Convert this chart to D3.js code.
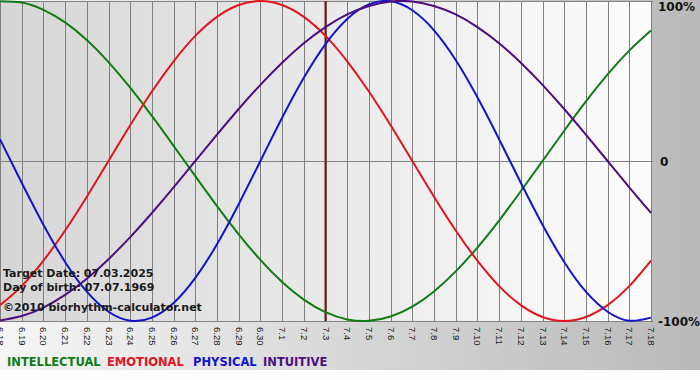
<!DOCTYPE html>
<html>
<head>
<meta charset="utf-8">
<script src="https://cdn.jsdelivr.net/npm/d3@7"></script>
<style>
	html, body { margin: 0; padding: 0; background: #fdfdfd; }
	svg { display: block; }
</style>
</head>
<body>
<svg id="chart"></svg>
<script>
const dates = [
	'6.18', '6.19', '6.20', '6.21', '6.22', '6.23', '6.24', '6.25', '6.26', '6.27',
	'6.28', '6.29', '6.30', '7.1', '7.2', '7.3', '7.4', '7.5', '7.6', '7.7', '7.8',
	'7.9', '7.10', '7.11', '7.12', '7.13', '7.14', '7.15', '7.16', '7.17', '7.18'
];
const physical = [13.6, -13.6, -39.8, -63.1, -81.7, -94.2, -99.8, -97.9, -88.8, -73.1, -52.0, -27.0, 0, 27.0, 52.0, 73.1, 88.8, 97.9, 99.8, 94.2, 81.7, 63.1, 39.8, 13.6, -13.6, -39.8, -63.1, -81.7, -94.2, -99.8, -97.9];
const emotional = [-90.1, -78.2, -62.3, -43.4, -22.3, 0, 22.3, 43.4, 62.3, 78.2, 90.1, 97.5, 100, 97.5, 90.1, 78.2, 62.3, 43.4, 22.3, 0, -22.3, -43.4, -62.3, -78.2, -90.1, -97.5, -100, -97.5, -90.1, -78.2, -62.3];
const intellectual = [99.9, 99.0, 94.5, 86.6, 75.6, 61.8, 45.8, 28.2, 9.5, -9.5, -28.2, -45.8, -61.8, -75.6, -86.6, -94.5, -99.0, -99.9, -97.2, -91.0, -81.5, -69.0, -54.1, -37.2, -18.9, 0, 18.9, 37.2, 54.1, 69.0, 81.5];
const intuitive = [-99.7, -96.9, -91.6, -83.7, -73.6, -61.4, -47.6, -32.5, -16.5, 0, 16.5, 32.5, 47.6, 61.4, 73.6, 83.7, 91.6, 96.9, 99.7, 99.7, 96.9, 91.6, 83.7, 73.6, 61.4, 47.6, 32.5, 16.5, 0, -16.5, -32.5];
const yTickValues = [100, 0, -100];
const yTickLabels = ['100%', '0', '-100%'];
const targetIndex = 15;
const infoLines = ['Target Date: 07.03.2025', 'Day of birth: 07.07.1969', '\u00a92010 biorhythm-calculator.net'];

const series = [
	{ label: 'INTELLECTUAL', values: intellectual, color: '#0f7c14', legendX: 7 },
	{ label: 'EMOTIONAL', values: emotional, color: '#e3141c', legendX: 107 },
	{ label: 'PHYSICAL', values: physical, color: '#1414cc', legendX: 193 },
	{ label: 'INTUITIVE', values: intuitive, color: '#4c0e80', legendX: 263 }
];

const totalWidth = 700;
const totalHeight = 380;
const plot = { left: 0, right: 651, top: 1, bottom: 321 };

const xScale = d3.scaleLinear([0, dates.length - 1], [plot.left, plot.right]);
const yScale = d3.scaleLinear([-100, 100], [plot.bottom, plot.top]);

const svg = d3.select('#chart')
	.attr('width', totalWidth)
	.attr('height', totalHeight)
	.attr('viewBox', `0 0 ${totalWidth} ${totalHeight}`);

/** BACKGROUNDS *************************************************************/
const defs = svg.append('defs');
const outerGrad = defs.append('linearGradient').attr('id', 'outer-bg');
outerGrad.append('stop').attr('offset', '0%').attr('stop-color', '#f6f6f6');
outerGrad.append('stop').attr('offset', '100%').attr('stop-color', '#b9b9b9');
const plotGrad = defs.append('linearGradient').attr('id', 'plot-bg');
plotGrad.append('stop').attr('offset', '0%').attr('stop-color', '#d6d6d6');
plotGrad.append('stop').attr('offset', '100%').attr('stop-color', '#fdfdfd');

svg.append('rect')
	.attr('x', 0)
	.attr('y', 0)
	.attr('width', totalWidth)
	.attr('height', 370)
	.attr('fill', 'url(#outer-bg)');

svg.append('rect')
	.attr('x', plot.left)
	.attr('y', plot.top)
	.attr('width', plot.right - plot.left + 1)
	.attr('height', plot.bottom - plot.top)
	.attr('fill', 'url(#plot-bg)');

/** GRIDS *******************************************************************/
const gridG = svg.append('g')
	.attr('stroke', '#808080')
	.attr('stroke-width', 1)
	.attr('shape-rendering', 'crispEdges');

gridG.selectAll('.grid-x')
	.data(dates)
	.enter()
	.append('line')
	.attr('x1', (d, i) => Math.round(xScale(i)) + 0.5)
	.attr('x2', (d, i) => Math.round(xScale(i)) + 0.5)
	.attr('y1', plot.top)
	.attr('y2', plot.bottom);

gridG.selectAll('.grid-y')
	.data(yTickValues)
	.enter()
	.append('line')
	.attr('x1', plot.left)
	.attr('x2', plot.right + 2)
	.attr('y1', (d) => Math.round(yScale(d)) + 0.5)
	.attr('y2', (d) => Math.round(yScale(d)) + 0.5);

/** TARGET DATE *************************************************************/
svg.append('line')
	.attr('x1', xScale(targetIndex))
	.attr('x2', xScale(targetIndex))
	.attr('y1', plot.top)
	.attr('y2', plot.bottom)
	.attr('stroke', '#741818')
	.attr('stroke-width', 2);

/** DATA ********************************************************************/
const line = d3.line()
	.x((d, i) => xScale(i))
	.y((d) => yScale(d))
	.curve(d3.curveNatural);

svg.append('g')
	.selectAll('.line')
	.data(series)
	.enter()
	.append('path')
	.attr('class', 'line')
	.attr('fill', 'none')
	.attr('stroke', (d) => d.color)
	.attr('stroke-width', 2)
	.attr('stroke-linejoin', 'round')
	.attr('d', (d) => line(d.values));

/** AXIS LABELS *************************************************************/
svg.append('g')
	.selectAll('text')
	.data(dates)
	.enter()
	.append('text')
	.attr('transform', (d, i) => `translate(${xScale(i) - 3}, 327) rotate(90)`)
	.attr('font-family', '"Liberation Sans", Arial, sans-serif')
	.attr('font-size', 9.5)
	.attr('fill', '#1a1a1a')
	.text((d) => d);

svg.append('g')
	.selectAll('text')
	.data(yTickValues)
	.enter()
	.append('text')
	.attr('x', (d) => (d === 0 ? 660 : 658))
	.attr('y', (d) => Math.max(yScale(d) + 5, 11))
	.attr('font-family', '"DejaVu Sans", Verdana, sans-serif')
	.attr('font-weight', 'bold')
	.attr('font-size', 12)
	.attr('fill', '#111')
	.text((d, i) => yTickLabels[i]);

/** INFO TEXT ***************************************************************/
svg.append('g')
	.selectAll('text')
	.data(infoLines)
	.enter()
	.append('text')
	.attr('x', 3)
	.attr('y', (d, i) => [277, 291, 311][i])
	.attr('font-family', '"DejaVu Sans", Verdana, sans-serif')
	.attr('font-weight', 'bold')
	.attr('font-size', 11)
	.attr('fill', '#1a1a1a')
	.text((d) => d);

/** LEGEND ******************************************************************/
svg.append('g')
	.selectAll('text')
	.data(series)
	.enter()
	.append('text')
	.attr('x', (d) => d.legendX)
	.attr('y', 366)
	.attr('font-family', '"DejaVu Sans", Verdana, sans-serif')
	.attr('font-weight', 'bold')
	.attr('font-size', 11.5)
	.attr('fill', (d) => d.color)
	.text((d) => d.label);
</script>
</body>
</html>
